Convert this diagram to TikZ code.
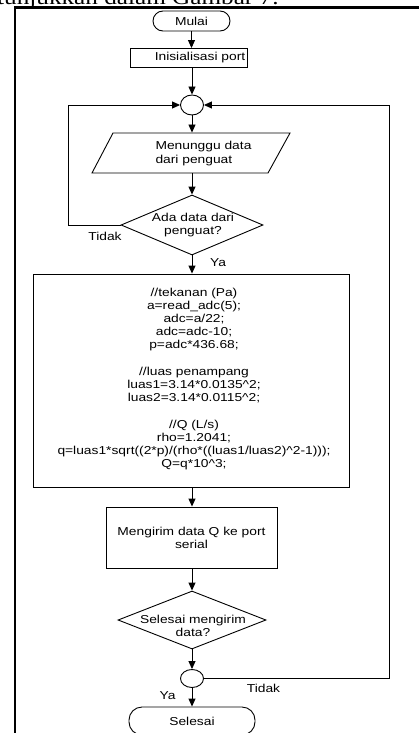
\documentclass[tikz,border=0pt]{standalone}
\usepackage{fontspec}
\setmainfont{Liberation Sans}[FakeStretch=1.2]
\newfontfamily\hdrfont{Liberation Serif}[FakeStretch=1.2]
\usetikzlibrary{shapes.geometric,arrows.meta}
\begin{document}
\begin{tikzpicture}[x=1pt,y=-1pt,
  font=\fontsize{11.5}{13.2}\selectfont,
  line width=0.9pt,
  arr/.style={-{Triangle[length=8pt,width=7pt]}},
  shp/.style={draw, inner sep=0pt, align=center},
  txt/.style={inner sep=0pt, align=center},
  frame/.style={line width=2.5pt}]
\useasboundingbox (0,0) rectangle (419,733);
\clip (0,0) rectangle (419,733);

% cropped page text and frame
\node[inner sep=0pt, anchor=base east, font=\hdrfont\fontsize{21}{24}\selectfont] (hdr) at (279,5) {ditunjukkan dalam Gambar 7.};
\draw[frame] (15,745) |- (430,7.5);

% shapes
\node[shp, rounded corners=10pt, minimum width=77pt, minimum height=20pt] (mulai) at (191.5,21) {Mulai};
\node[shp, minimum width=117pt, minimum height=19pt] (init) at (188.5,58) {};
\node[txt] (initt) at (200,58) {Inisialisasi port};
\node[shp, ellipse, minimum width=23pt, minimum height=20pt] (c1) at (192,105) {};
\node[inner sep=0pt, minimum width=177pt, minimum height=40pt] (para) at (191,153) {};
\draw (92,173) -- (113,133) -- (290,133) -- (268,173) -- cycle;
\node[txt, align=left] (parat) at (203.5,153.5) {Menunggu data\\dari penguat};
\node[shp, diamond, minimum width=142pt, minimum height=60pt] (d1) at (192,225) {};
\node[txt] (d1t) at (193,225) {Ada data dari\\penguat?};
\node[shp, minimum width=316pt, minimum height=213pt] (calc) at (191,380.5) {};
\node[txt] (calct) at (194,379) {//tekanan (Pa)\\
a=read\_adc(5);\\
adc=a/22;\\
adc=adc-10;\\
p=adc*436.68;\\
~\\
//luas penampang\\
luas1=3.14*0.0135\textasciicircum2;\\
luas2=3.14*0.0115\textasciicircum2;\\
~\\
//Q (L/s)\\
rho=1.2041;\\
q=luas1*sqrt((2*p)/(rho*((luas1/luas2)\textasciicircum2-1)));\\
Q=q*10\textasciicircum3;};
\node[shp, minimum width=171pt, minimum height=61pt] (send) at (191.5,537.5) {Mengirim data Q ke port\\serial};
\node[shp, diamond, minimum width=148pt, minimum height=58pt] (d2) at (192,620) {};
\node[txt] (d2t) at (193,626) {Selesai mengirim\\data?};
\node[shp, ellipse, minimum width=23pt, minimum height=18pt] (c2) at (192,678.5) {};
\node[shp, rounded corners=13pt, minimum width=126pt, minimum height=28pt] (sel) at (192,721) {Selesai};

% connectors
\draw[arr] (mulai.south) -- (mulai.south |- init.north);
\draw[arr] (c1 |- init.south) -- (c1.north);
\draw[arr] (c1.south) -- (c1.south |- para.north);
\draw[arr] (d1 |- para.south) -- (d1.north);
\draw[arr] (d1.south) -- (d1.south |- calc.north);
\draw[arr] (d1.south |- calc.south) -- (d1.south |- send.north);
\draw[arr] (d2 |- send.south) -- (d2.north);
\draw[arr] (d2.south) -- (c2.north);
\draw[arr] (c2.south) -- (c2.south |- sel.north);
\coordinate (lc) at (68,105);
\draw[arr] (d1.west) -| (lc) -- (c1.west);
\coordinate (rc) at (389,105);
\draw[arr] (c2.east) -| (rc) -- (c1.east);

% labels
\node[txt] (tdk1) at (105,236.5) {Tidak};
\node[txt] (ya1) at (218,263) {Ya};
\node[txt] (tdk2) at (263.5,688) {Tidak};
\node[txt] (ya2) at (167.5,695.5) {Ya};
\end{tikzpicture}
\end{document}
